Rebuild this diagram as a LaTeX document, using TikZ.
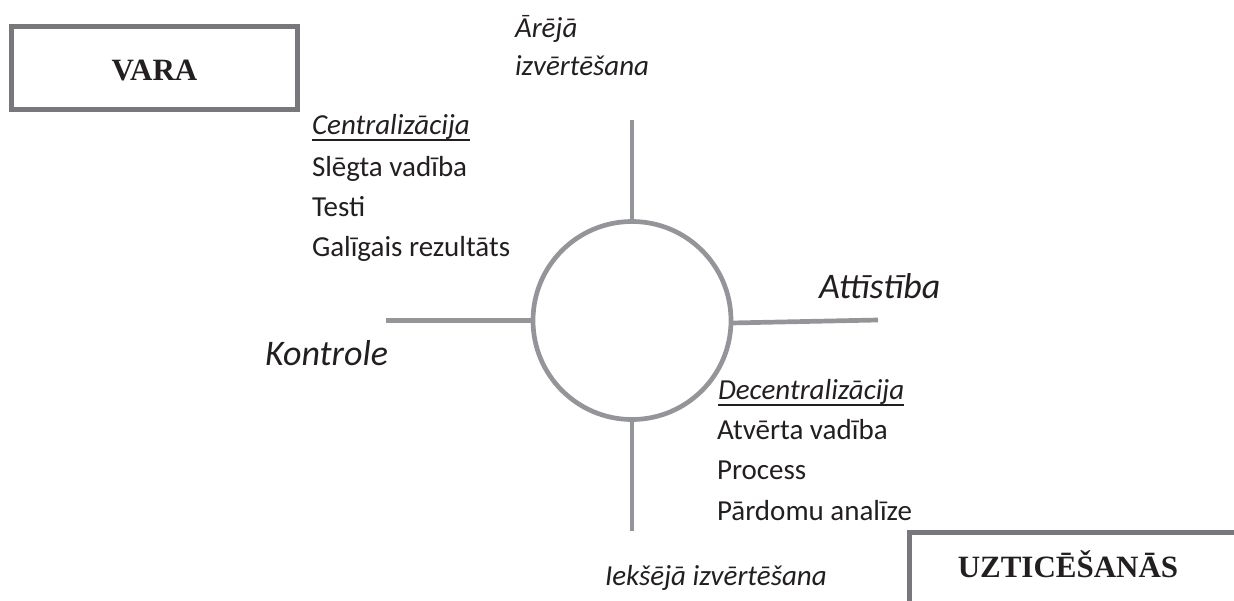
\documentclass[tikz,border=0pt]{standalone}
\usepackage{fontspec}
\setmainfont{Carlito}
\newfontfamily\boxfont{Liberation Serif}
\definecolor{ink}{HTML}{231F20}
\definecolor{linegray}{HTML}{939598}
\definecolor{boxgray}{HTML}{77787B}
\tikzset{
  txt/.style={anchor=base west, inner sep=0pt, outer sep=0pt, text=ink, font=\fontsize{29}{35}\selectfont},
  itxt/.style={txt, font=\fontsize{29}{35}\selectfont\itshape},
  bigtxt/.style={txt, font=\fontsize{36}{42}\selectfont\itshape},
  boxtxt/.style={anchor=base, inner sep=0pt, outer sep=0pt, text=ink, font=\fontsize{31}{36}\selectfont\boxfont\bfseries},
  frame/.style={draw=boxgray, line width=5pt},
  spoke/.style={draw=linegray, line width=4.7pt},
  ul/.style={draw=ink, line width=1.8pt},
}
\begin{document}
\begin{tikzpicture}[x=1pt,y=-1pt]
\useasboundingbox (0,0) rectangle (1234,600);
\clip (0,0) rectangle (1234,600);
% boxes
\draw[frame] (11.5,26.5) rectangle (297.5,109.5);
\node[boxtxt] (vara) at (154.5,80) {VARA};
\draw[frame] (909,532) rectangle (1250,620);
\node[boxtxt] (uzt) at (1068,577) {UZTICĒŠANĀS};
% circle and spokes
\node[circle, draw=linegray, line width=4.7pt, minimum size=198pt, inner sep=0pt, outer sep=0pt] (c) at (632,320.5) {};
\coordinate (ctop) at (632,120);
\coordinate (cbot) at (632,531);
\coordinate (cleft) at (386,320.5);
\coordinate (cright) at (878,320);
\draw[spoke] (c.north) -- (ctop);
\draw[spoke] (c.south) -- (cbot);
\draw[spoke] (c.west) -- (cleft);
\draw[spoke] ([yshift=-2.5pt]c.east) -- (cright);
% labels
\node[itxt] (are1) at (515,37) {Ārējā};
\node[itxt] (are2) at (515,75) {izvērtēšana};
\node[itxt] (iek) at (605,585) {Iekšējā izvērtēšana};
\node[bigtxt] (att) at (819,298) {Attīstība};
\node[bigtxt] (kon) at (265,365) {Kontrole};
% left list
\node[itxt] (cen) at (312,134.5) {Centralizācija};
\draw[ul] ([yshift=-5.5pt]cen.base west) -- ([yshift=-5.5pt]cen.base east);
\node[txt] (cen1) at (312,176) {Slēgta vadība};
\node[txt] (cen2) at (312,216) {Testi};
\node[txt] (cen3) at (312,256.5) {Galīgais rezultāts};
% right list
\node[itxt] (dec) at (718,399.5) {Decentralizācija};
\draw[ul] ([yshift=-5.5pt]dec.base west) -- ([yshift=-5.5pt]dec.base east);
\node[txt] (dec1) at (717,439.5) {Atvērta vadība};
\node[txt] (dec2) at (717,479.5) {Process};
\node[txt] (dec3) at (717,520) {Pārdomu analīze};
\end{tikzpicture}
\end{document}
